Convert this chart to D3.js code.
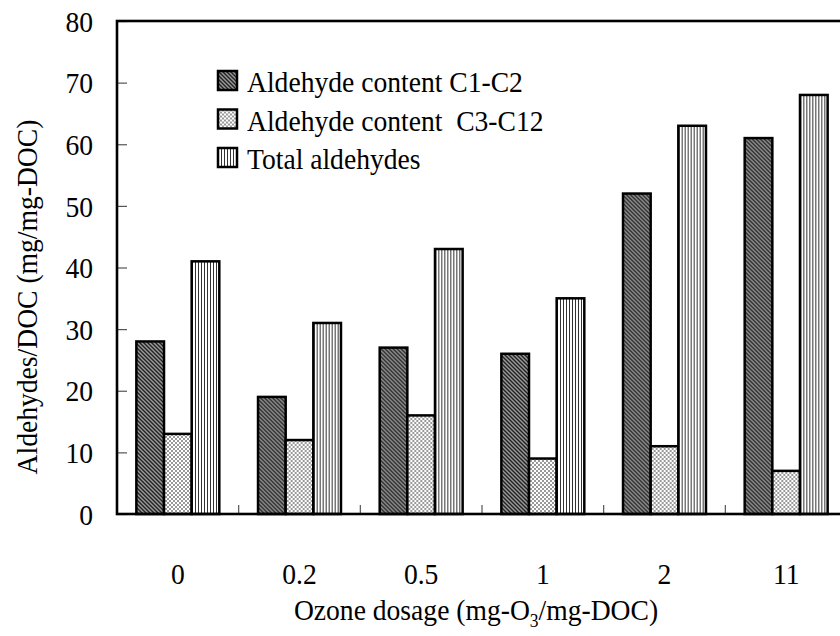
<!DOCTYPE html>
<html>
<head>
<meta charset="utf-8">
<script src="https://cdn.jsdelivr.net/npm/d3@7"></script>
<style>
  body { margin: 0; background: #fff; }
  svg text { font-family: "Liberation Serif", "DejaVu Serif", serif !important; fill: #000; }
</style>
</head>
<body>
<script>
// data
var dosages = ["0", "0.2", "0.5", "1", "2", "11"];
var seriesNames = ["Aldehyde content C1-C2", "Aldehyde content  C3-C12", "Total aldehydes"];
var c1c2 = [28, 19, 27, 26, 52, 61];
var c3c12 = [13, 12, 16, 9, 11, 7];
var total = [41, 31, 43, 35, 63, 68];
var yTicks = [0, 10, 20, 30, 40, 50, 60, 70, 80];

var width = 840, height = 636;
var pad = { left: 117, top: 21, bottom: 122, right: -7 };
var sx = 0.92; // the original font is a narrow one, squeeze the serif a bit
var fs = "30px";
var serif = "'Liberation Serif', 'DejaVu Serif', serif";

var svg = d3.select("body").append("svg")
    .attr("width", width).attr("height", height);

// fill patterns
var defs = svg.append("defs");
var p1 = defs.append("pattern").attr("id", "pdark")
    .attr("width", 4).attr("height", 4).attr("patternUnits", "userSpaceOnUse");
p1.append("rect").attr("width", 4).attr("height", 4).attr("fill", "#9a9a9a");
p1.append("path").attr("d", "M-1,-1 L5,5 M-1,3 L1,5 M3,-1 L5,1")
    .attr("stroke", "#222").attr("stroke-width", 1.4);

var p2 = defs.append("pattern").attr("id", "pcheck")
    .attr("width", 4).attr("height", 4).attr("patternUnits", "userSpaceOnUse");
p2.append("rect").attr("width", 4).attr("height", 4).attr("fill", "#fff");
p2.append("rect").attr("width", 2).attr("height", 2).attr("fill", "#999");
p2.append("rect").attr("x", 2).attr("y", 2).attr("width", 2).attr("height", 2).attr("fill", "#999");

var p3 = defs.append("pattern").attr("id", "pvert")
    .attr("width", 3).attr("height", 4).attr("patternUnits", "userSpaceOnUse");
p3.append("rect").attr("width", 3).attr("height", 4).attr("fill", "#fff");
p3.append("rect").attr("width", 1).attr("height", 4).attr("fill", "#333");

var fills = ["url(#pdark)", "url(#pcheck)", "url(#pvert)"];
var seriesValues = [c1c2, c3c12, total];

var x0 = d3.scaleBand()
    .domain(dosages)
    .range([pad.left, width - pad.right])
    .paddingInner(0).paddingOuter(0);

var x1 = d3.scaleBand()
    .domain(d3.range(seriesNames.length))
    .range([0, x0.bandwidth()])
    .paddingInner(0).paddingOuter(0.7);

var y = d3.scaleLinear()
    .domain([0, 80])
    .range([height - pad.bottom, pad.top]);

// y axis, ticks pointing inwards
var yaxis = d3.axisLeft(y).tickValues(yTicks).tickSize(-10).tickFormat(d3.format("d"));
var yg = svg.append("g")
    .attr("class", "yaxis")
    .attr("transform", "translate(" + pad.left + ",0)")
    .call(yaxis)
    .attr("font-family", serif);
yg.select(".domain").remove();
yg.selectAll(".tick line").attr("stroke", "#555").attr("stroke-width", 1.2);
yg.selectAll(".tick text")
    .attr("x", -24 / sx)
    .attr("dy", "0.34em")
    .attr("transform", "scale(" + sx + ",1)")
    .style("font-family", serif)
    .style("font-size", fs);

// x axis: small ticks between the groups, labels below
var xaxis = d3.axisBottom(x0).tickSize(0).tickPadding(48);
var xg = svg.append("g")
    .attr("class", "xaxis")
    .attr("transform", "translate(0," + y(0) + ")")
    .call(xaxis)
    .attr("font-family", serif);
xg.select(".domain").remove();
xg.selectAll(".tick text")
    .attr("transform", "scale(" + sx + ",1)")
    .attr("x", 0).attr("y", 70).attr("dy", 0)
    .style("font-family", serif)
    .style("font-size", fs);
xg.selectAll(".sep")
    .data(dosages.slice(1))
    .enter().append("line")
    .attr("class", "sep")
    .attr("x1", function(d) { return x0(d); })
    .attr("x2", function(d) { return x0(d); })
    .attr("y1", 0).attr("y2", -9)
    .attr("stroke", "#555").attr("stroke-width", 1.2);

// bars
var groups = svg.selectAll(".group")
    .data(dosages)
    .enter().append("g")
    .attr("class", "group")
    .attr("transform", function(d) { return "translate(" + x0(d) + ",0)"; });

groups.selectAll("rect")
    .data(function(d, i) { return seriesValues.map(function(s, k) { return { k: k, v: s[i] }; }); })
    .enter().append("rect")
    .attr("x", function(d) { return x1(d.k); })
    .attr("width", x1.bandwidth())
    .attr("y", function(d) { return y(d.v); })
    .attr("height", function(d) { return y(0) - y(d.v); })
    .attr("fill", function(d) { return fills[d.k]; })
    .attr("stroke", "#000")
    .attr("stroke-width", 2.5);

// plot frame
svg.append("rect")
    .attr("x", pad.left).attr("y", pad.top)
    .attr("width", width - pad.right - pad.left)
    .attr("height", y(0) - pad.top)
    .attr("fill", "none").attr("stroke", "#000").attr("stroke-width", 2.6);

// legend
var legend = svg.append("g").attr("class", "legend");
var lrow = legend.selectAll("g")
    .data(seriesNames)
    .enter().append("g")
    .attr("transform", function(d, i) { return "translate(218," + (71 + i * 38.5) + ")"; });
lrow.append("rect")
    .attr("width", 19).attr("height", 19)
    .attr("fill", function(d, i) { return fills[i]; })
    .attr("stroke", "#000").attr("stroke-width", 2.5);
lrow.append("text")
    .attr("transform", "translate(29,21) scale(" + sx + ",1)")
    .style("font-family", serif)
    .style("font-size", fs)
    .style("white-space", "pre")
    .text(function(d) { return d; });

// axis titles
var xt = svg.append("text")
    .attr("transform", "translate(476,620) scale(" + sx + ",1)")
    .attr("text-anchor", "middle")
    .style("font-family", serif)
    .style("font-size", fs);
xt.append("tspan").text("Ozone dosage (mg-O");
xt.append("tspan").attr("dy", 7).style("font-size", "19px").text("3");
xt.append("tspan").attr("dy", -7).text("/mg-DOC)");

svg.append("text")
    .attr("transform", "translate(37,297) rotate(-90) scale(" + sx + ",1)")
    .attr("text-anchor", "middle")
    .style("font-family", serif)
    .style("font-size", fs)
    .text("Aldehydes/DOC (mg/mg-DOC)");
</script>
</body>
</html>
